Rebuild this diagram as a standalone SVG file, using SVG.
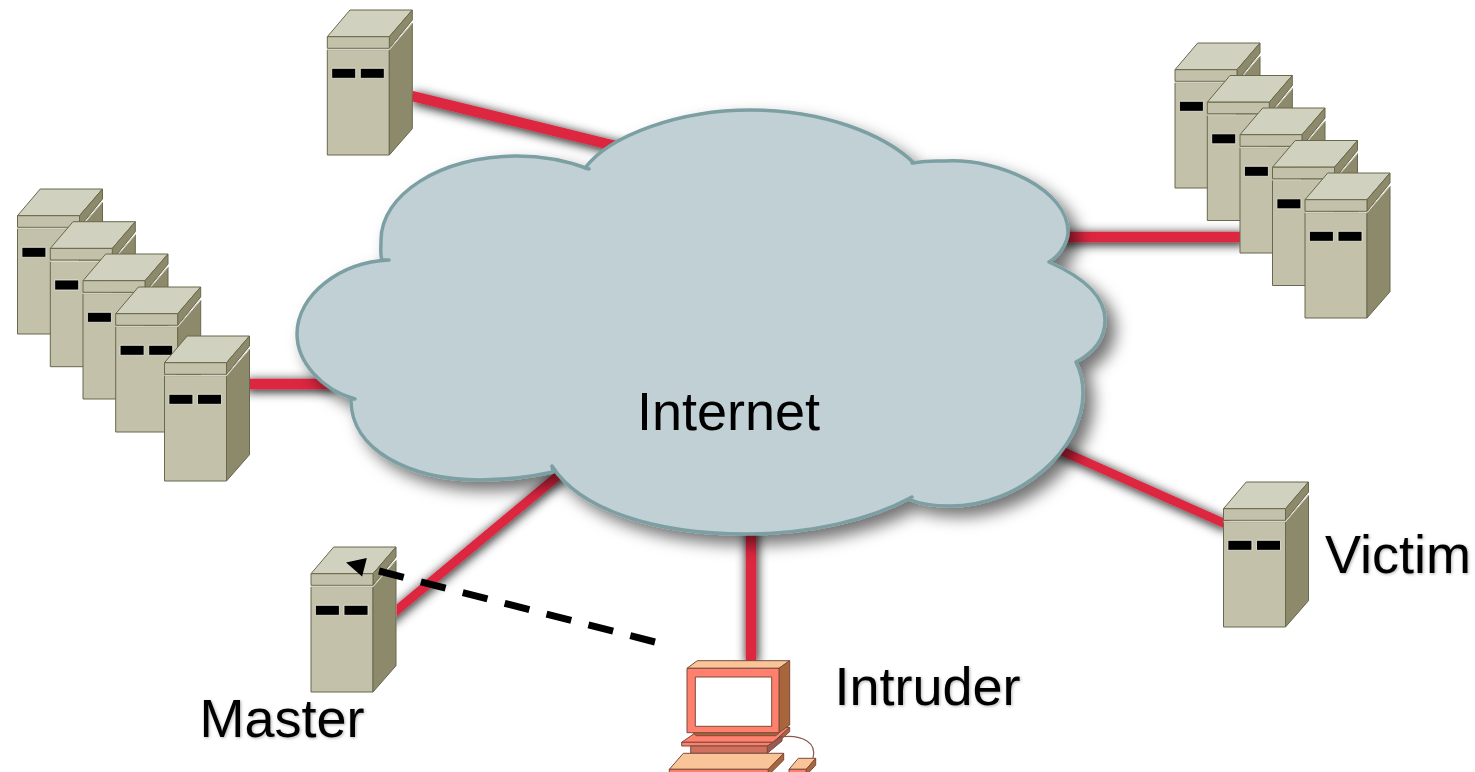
<svg xmlns="http://www.w3.org/2000/svg" width="1475" height="772" viewBox="0 0 1475 772">
<style>
.label{font-family:"Liberation Sans",Arial,sans-serif;font-size:54px;fill:#000}
.link{stroke:#dd2840;stroke-width:10.5;fill:none}
.sv{stroke:#68684c;stroke-width:1;stroke-linejoin:round}
.st{fill:#d1d1bf}.sf{fill:#c3c1aa}.ss{fill:#8c8a6b}
.pc{stroke:#7a4a3c;stroke-width:1;stroke-linejoin:round}
.pk{fill:#f9c598}.pr{fill:#ff806d}.pb{fill:#a9663c}
</style>
<defs>
<filter id="hShadow" filterUnits="userSpaceOnUse" x="0" y="0" width="1475" height="772"><feDropShadow dx="1" dy="2" stdDeviation="5.5" flood-color="#000" flood-opacity="1"/></filter>
<filter id="cloudShadow" filterUnits="userSpaceOnUse" x="250" y="80" width="900" height="500"><feDropShadow dx="9" dy="9" stdDeviation="8" flood-color="#000" flood-opacity=".55"/></filter>
<filter id="textShadow" x="-5%" y="-10%" width="115%" height="130%"><feDropShadow dx="1" dy="1" stdDeviation="1.5" flood-color="#000" flood-opacity=".3"/></filter>
<clipPath id="masterClip"><rect x="396.5" y="0" width="1078" height="772"/></clipPath>
<marker id="arrow" markerUnits="userSpaceOnUse" viewBox="0 -10 40 20" refX="0" refY="0" markerWidth="40" markerHeight="20" orient="auto" overflow="visible"><path d="M15,-9.5L34,0L15,9.5Z" fill="#000"/></marker>
<g id="server" class="sv">
<polygon class="st" points="0,26.7 22.7,0 85,0 62,26.7"/>
<polygon class="ss" points="62,26.7 85,0 85,10 62,38.3"/>
<rect class="sf" x="0" y="26.7" width="62" height="11.6"/>
<rect class="sf" x="0" y="39.7" width="62" height="105.3"/>
<polygon class="ss" points="62,39.7 85,13 85,118.7 62,145"/>
<polyline points="0,39.7 62,39.7 85,13" fill="none" stroke="#f4f4ea" stroke-width=".9"/>
<rect x="4.4" y="58.3" width="24" height="10" fill="#000" stroke="#eeeee4" stroke-width=".8"/>
<rect x="33" y="58.3" width="24" height="10" fill="#000" stroke="#eeeee4" stroke-width=".8"/>
</g>
</defs>
<rect width="1475" height="772" fill="#fff"/>
<g id="master"><use href="#server" x="311" y="547"/><text class="label" x="199.5" y="737" filter="url(#textShadow)">Master</text></g>
<g id="connectors">
<line class="link" x1="412" y1="96" x2="640" y2="152" filter="url(#hShadow)"/>
<line class="link" x1="1060" y1="237" x2="1245" y2="237" filter="url(#hShadow)"/>
<line class="link" x1="245" y1="384" x2="335" y2="384" filter="url(#hShadow)"/>
<g clip-path="url(#masterClip)"><line class="link" style="stroke-width:9" x1="385" y1="620" x2="565" y2="470" filter="url(#hShadow)"/></g>
<line class="link" x1="751" y1="525" x2="751" y2="662" filter="url(#hShadow)"/>
<line class="link" style="stroke-width:9" x1="1055" y1="448" x2="1228" y2="525" filter="url(#hShadow)"/>
<line x1="655" y1="642" x2="379" y2="571" stroke="#000" stroke-width="7" stroke-dasharray="25.5 17.75" marker-end="url(#arrow)"/>
</g>
<g id="internet">
<path d="M585,168C610,135 680,110 750,110C825,110 885,135 914,163L912,163C930,160 935,161 945,161C1000,158 1068,190 1068,232C1068,240 1062,254 1049,262C1085,278 1105,298 1105,320C1105,338 1095,352 1076,362C1081,372 1083,382 1083,393C1083,450 1020,506 950,506C935,506 920,504 908,499L912,497C870,520 810,534 745,534C655,534 580,510 552,466L553,472C530,477 505,480 480,480C410,480 350,450 351,399L355,399C322,390 297,362 297,334C297,295 340,262 389,260L382,260C380,255 381,248 381,240C381,195 440,156 517,156C542,156 565,160 589,169Z" fill="#c1d0d5" stroke="#7c9fa3" stroke-width="3.5" stroke-linejoin="round" filter="url(#cloudShadow)"/>
<text class="label" x="637" y="430">Internet</text>
</g>
<g id="server-top"><use href="#server" x="327.3" y="10"/></g>
<g id="cluster-left">
<use href="#server" x="17.5" y="189"/>
<use href="#server" x="50.3" y="221.7"/>
<use href="#server" x="83" y="254"/>
<use href="#server" x="115.7" y="287"/>
<use href="#server" x="164.5" y="336"/>
</g>
<g id="cluster-right">
<use href="#server" x="1175" y="43"/>
<use href="#server" x="1207.3" y="75.5"/>
<use href="#server" x="1240" y="108"/>
<use href="#server" x="1272.5" y="140.5"/>
<use href="#server" x="1305" y="173"/>
</g>
<g id="victim"><use href="#server" x="1223.5" y="482"/><text class="label" x="1325" y="573" filter="url(#textShadow)">Victim</text></g>
<g id="intruder">
<path d="M783,736.7C803,735 817,743 813,758" fill="none" stroke="#8a5a50" stroke-width="1.2"/>
<g class="pc">
<polygon class="pr" points="681.7,742.3 695,733 789.7,727.3 773.3,742.3"/>
<rect class="pr" x="681.7" y="742.3" width="91.6" height="3.7"/>
<polygon class="pb" points="773.3,742.3 789.7,727.3 789.7,731.7 773.3,746"/>
<polygon fill="#9b5a50" points="767.3,746 782,736 782,741 767.3,753.3"/>
<rect fill="#d0705f" x="690.7" y="746" width="76.6" height="7.3"/>
<polygon class="pb" points="693,732.7 696,735.7 776,735.7 779,732.7"/>
<polygon class="pk" points="687,668.3 697.3,660.7 789.7,660.7 779,668.3"/>
<polygon class="pb" points="779,668.3 789.7,660.7 789.7,725 779,732.7"/>
<rect class="pr" x="687" y="668.3" width="92" height="64.4"/>
<rect x="695.3" y="677" width="76.4" height="49.3" fill="#fff"/>
<polygon class="pk" points="669.3,769.3 683.3,753.3 783.7,753.3 768.3,769.3"/>
<rect class="pr" x="669.3" y="769.3" width="99" height="6"/>
<polygon class="pb" points="768.3,769.3 783.7,753.3 783.7,760 768.3,775.3"/>
<polygon class="pk" points="789,769.3 798.3,758.3 815.7,758.3 806.3,769.3"/>
<rect class="pr" x="789" y="769.3" width="17.3" height="6"/>
<polygon class="pb" points="806.3,769.3 815.7,758.3 815.7,765 806.3,775.3"/>
</g>
<text class="label" x="834.5" y="704.5" filter="url(#textShadow)">Intruder</text>
</g>
</svg>
